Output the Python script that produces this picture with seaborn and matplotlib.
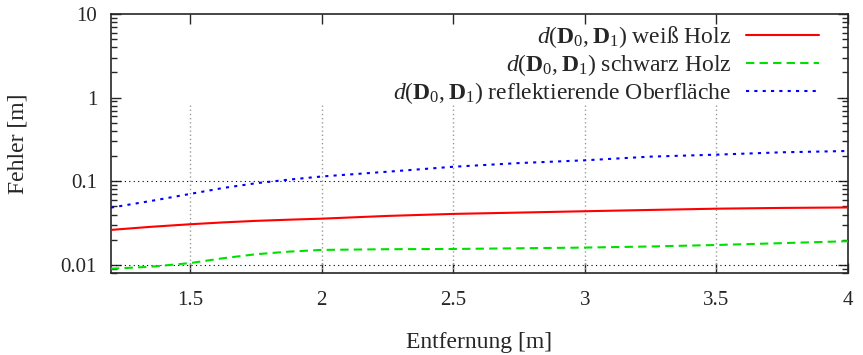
import matplotlib
matplotlib.use("Agg")
import matplotlib.pyplot as plt
import matplotlib.ticker as mticker
import numpy as np
import pandas as pd
import seaborn as sns

entfernung = [1.2, 1.35, 1.5, 1.625, 1.75, 1.875, 2.0, 2.25, 2.5, 2.75, 3.0, 3.25, 3.5, 3.75, 4.0]
weiss_holz = [0.0262, 0.0285, 0.0306, 0.0322, 0.0336, 0.0347, 0.0357, 0.0385, 0.0407, 0.0422, 0.0438, 0.0454, 0.0470, 0.0480, 0.0486]
schwarz_holz = [0.0090, 0.0095, 0.0105, 0.0120, 0.0134, 0.0144, 0.0151, 0.0154, 0.0155, 0.0158, 0.0161, 0.0166, 0.0173, 0.0182, 0.0192]
reflektierend = [0.0484, 0.0580, 0.0705, 0.0830, 0.0946, 0.1045, 0.1140, 0.1300, 0.1490, 0.1650, 0.1780, 0.1970, 0.2080, 0.2220, 0.2300]

labels = [r"$d(\mathbf{D}_0,\mathbf{D}_1)$ weiß Holz",
          r"$d(\mathbf{D}_0,\mathbf{D}_1)$ schwarz Holz",
          r"$d(\mathbf{D}_0,\mathbf{D}_1)$ reflektierende Oberfläche"]
farben = ["#ff0000", "#00e000", "#0000ff"]
stile = ["-", (0, (4, 2.5)), (0, (1.5, 2.5))]

sns.set_style("ticks")
plt.rcParams["font.family"] = ["Liberation Serif", "DejaVu Serif"]
plt.rcParams["mathtext.fontset"] = "custom"
plt.rcParams["mathtext.rm"] = "Liberation Serif"
plt.rcParams["mathtext.it"] = "Liberation Serif:italic"
plt.rcParams["mathtext.bf"] = "Liberation Serif:bold"

fig = plt.figure(figsize=(8.63, 3.55), dpi=100)
ax = fig.add_axes([0.1286, 0.231, 0.854, 0.7296])

for werte, lab, col, ls in zip([weiss_holz, schwarz_holz, reflektierend], labels, farben, stile):
    sns.lineplot(x=entfernung, y=werte, ax=ax, color=col, linestyle=ls, linewidth=1.5, label=lab, zorder=3)

ax.set_yscale("log")
ax.set_xlim(1.2, 4.0)
ax.set_ylim(0.008, 10)
ax.set_xticks([1.5, 2, 2.5, 3, 3.5, 4])
ax.xaxis.set_major_formatter(mticker.FuncFormatter(lambda v, p: f"{v:g}"))
ax.set_yticks([0.01, 0.1, 1, 10])
ax.yaxis.set_major_formatter(mticker.FuncFormatter(lambda v, p: f"{v:g}"))
ax.yaxis.set_minor_locator(mticker.LogLocator(base=10, subs=np.arange(2, 10)))
ax.yaxis.set_minor_formatter(mticker.NullFormatter())
ax.xaxis.set_minor_locator(mticker.NullLocator())

# Gitter (vom Legendenkasten teilweise verdeckt)
for xv in [1.5, 2, 2.5, 3, 3.5]:
    ax.axvline(xv, ymin=0, ymax=0.6525, color="#999999", linestyle=(0, (1, 2)), linewidth=1.0, zorder=1)
for yv in [0.01, 0.1]:
    ax.axhline(yv, color="black", linestyle=(0, (1, 3)), linewidth=0.8, zorder=1)
ax.axhline(1, xmin=0.985, color="black", linestyle=(0, (1, 3)), linewidth=0.8, zorder=1)

ax.tick_params(which="both", direction="in", top=True, right=True, labelsize=15, width=1.0)
ax.tick_params(axis="x", pad=13)
ax.tick_params(axis="y", pad=10)
ax.tick_params(which="major", length=7)
ax.tick_params(which="minor", length=4)
for s in ax.spines.values():
    s.set_linewidth(1.2)

ax.set_xlabel("Entfernung [m]", fontsize=17, labelpad=16)
ax.set_ylabel("Fehler [m]", fontsize=17, labelpad=23)

ax.legend(loc="upper right", bbox_to_anchor=(0.986, 1.035), markerfirst=False, frameon=False,
          fontsize=17, handlelength=3.1, handletextpad=0.6, labelspacing=0.1, borderpad=0.3)

fig.savefig("out.png", dpi=100)
